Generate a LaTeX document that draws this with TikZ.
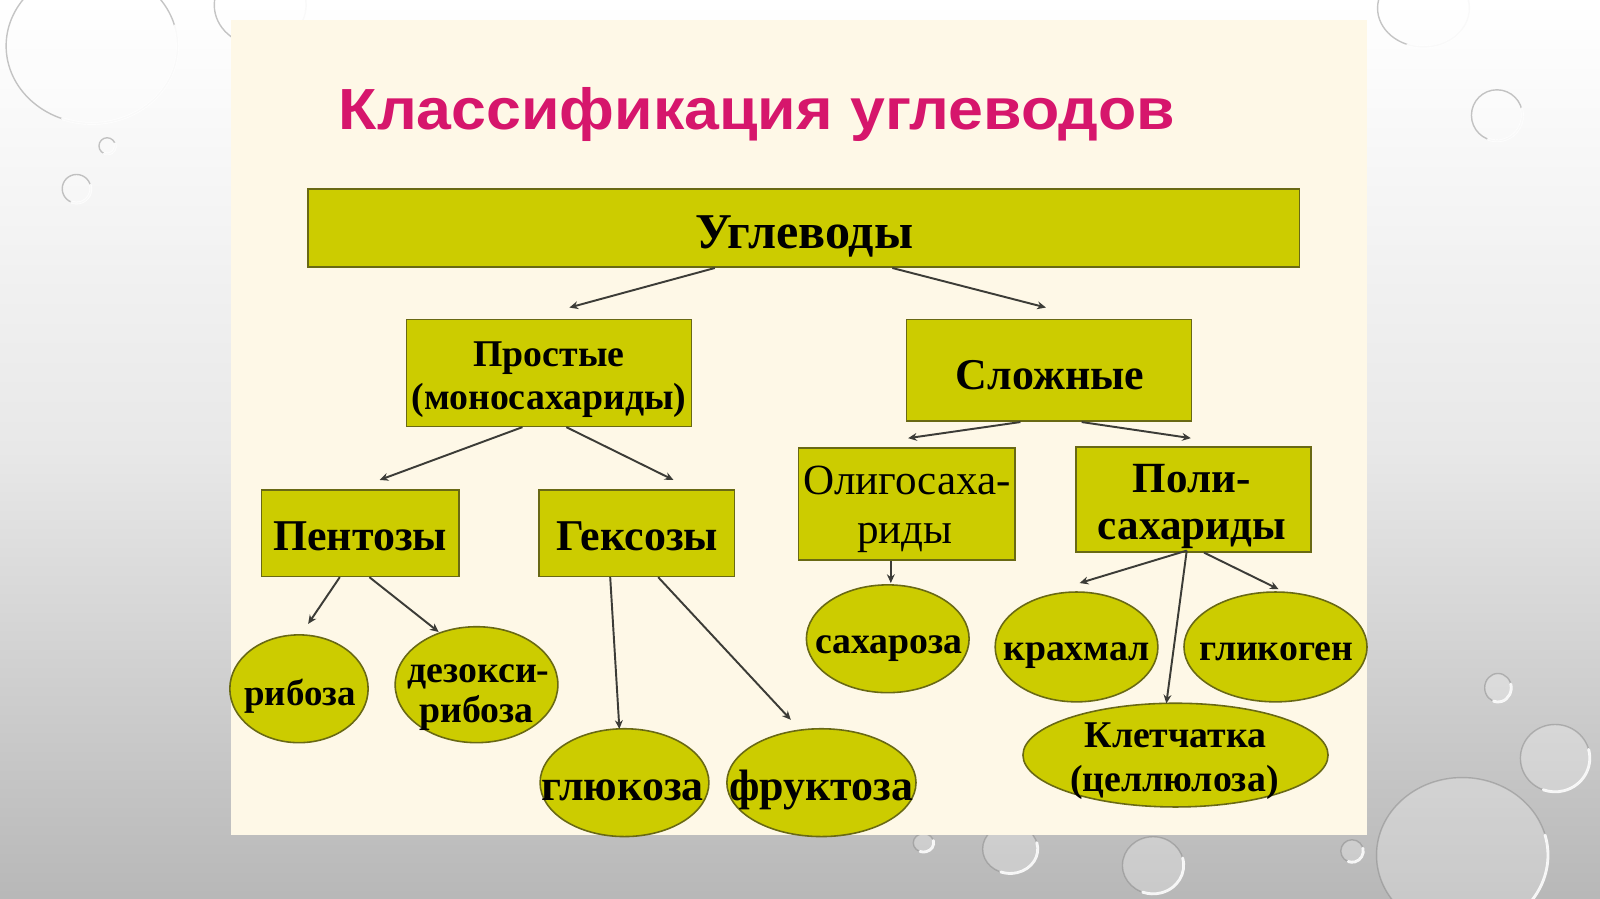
\documentclass[tikz,border=0pt]{standalone}
\usepackage{fontspec}
\setmainfont{Liberation Serif}
\newfontfamily\titlefont{Liberation Sans}[FakeStretch=1.08]
\usetikzlibrary{shapes.geometric,calc,arrows.meta}
\definecolor{cream}{RGB}{254,248,231}
\definecolor{boxfill}{RGB}{204,204,0}
\definecolor{boxline}{RGB}{105,105,20}
\definecolor{titlecol}{RGB}{214,22,108}
\definecolor{arrcol}{RGB}{60,60,55}
\def\uu{0.5785pt}
\newcommand\fsz[2]{\fontsize{#1pt}{#2pt}\selectfont}
\begin{document}
\begin{tikzpicture}[x=0.0204082cm, y=-0.0204082cm,
  box/.style={draw=boxline, line width=0.9pt, fill=boxfill, inner sep=0pt},
  oval/.style={ellipse, draw=boxline, line width=0.9pt, fill=boxfill, inner sep=0pt},
  lbl/.style={inner sep=0pt, anchor=base, text=black, font=\bfseries},
  arr/.style={draw=arrcol, line width=1.1pt, -{Stealth[length=5pt,width=4.5pt]}},
  dropfill/.style={fill=white, fill opacity=0.25},
  droprim/.style={draw=black!50, draw opacity=0.45, line width=0.8pt},
  dropshine/.style={draw=white, draw opacity=0.9, line width=1.6pt, line cap=round}
]
\useasboundingbox (0,0) rectangle (1568,881);
% background
\shade[top color=white, bottom color=black!28, middle color=black!9] (0,0) rectangle (1568,881);
% droplets
\foreach \cx/\cy/\rx/\ry in {90/45/84/76, 105/143/8/8, 75/185/14/14, 255/5/45/40, 1395/8/45/38, 1467/113/25/25, 1468/674/13/14, 1524/743/34/33, 1433/838/84/76, 1130/848/30/28, 990/832/27/24, 905/826/10/9, 1325/834/11/11}
{
  \path[dropfill] (\cx,\cy) ellipse[x radius=\rx, y radius=\ry];
  \path[droprim] (\cx,\cy) ellipse[x radius=\rx, y radius=\ry];
  \path[dropshine] ($(\cx,\cy)+(-15:{\rx} and {\ry})$) arc[start angle=-15, end angle=110, x radius=\rx, y radius=\ry];
}
% slide
\fill[cream] (226,20) rectangle (1340,818);
% title
\node[inner sep=0pt, anchor=base, text=titlecol, font=\titlefont\bfseries\fsz{33}{40}] (title) at (742,127) {Классификация углеводов};

% boxes
\node[box, minimum width=975*\uu, minimum height=77*\uu] (ugl) at (787.5,223.5) {};
\node[box, minimum width=280*\uu, minimum height=105*\uu] (pros) at (538,365.5) {};
\node[box, minimum width=280*\uu, minimum height=100*\uu] (slo) at (1028,363) {};
\node[box, minimum width=194*\uu, minimum height=85*\uu] (pen) at (353,522.5) {};
\node[box, minimum width=192*\uu, minimum height=85*\uu] (gex) at (624,522.5) {};
\node[box, minimum width=213*\uu, minimum height=110*\uu] (oli) at (888.5,494) {};
\node[box, minimum width=231*\uu, minimum height=103*\uu] (pol) at (1169.5,489.5) {};
% ovals
\node[oval, minimum width=136*\uu, minimum height=106*\uu] (rib) at (293,675) {};
\node[oval, minimum width=160*\uu, minimum height=114*\uu] (dez) at (467,671) {};
\node[oval, minimum width=166*\uu, minimum height=106*\uu] (glu) at (612,767) {};
\node[oval, minimum width=186*\uu, minimum height=106*\uu] (fru) at (805,767) {};
\node[oval, minimum width=160*\uu, minimum height=106*\uu] (sax) at (870,626) {};
\node[oval, minimum width=160*\uu, minimum height=108*\uu] (kra) at (1055,634) {};
\node[oval, minimum width=180*\uu, minimum height=108*\uu] (gli) at (1250,634) {};
\node[oval, minimum width=300*\uu, minimum height=102*\uu] (kle) at (1152,740) {};

% labels
\node[lbl, font=\bfseries\fsz{28.5}{31}] (t-ugl) at (788,244) {Углеводы};
\node[lbl, font=\bfseries\fsz{21.5}{24}] (t-pros1) at (538,359) {Простые};
\node[lbl, font=\bfseries\fsz{21.5}{24}] (t-pros2) at (538,401) {(моносахариды)};
\node[lbl, font=\bfseries\fsz{25}{28}] (t-slo) at (1029,382) {Сложные};
\node[lbl, font=\bfseries\fsz{25}{28}] (t-pen) at (353,539) {Пентозы};
\node[lbl, font=\bfseries\fsz{25}{28}] (t-gex) at (624.5,539) {Гексозы};
\node[lbl, font=\mdseries\fsz{24.5}{27}] (t-oli1) at (889,485) {Олигосаха-};
\node[lbl, font=\mdseries\fsz{24.5}{27}] (t-oli2) at (887,533) {риды};
\node[lbl, font=\bfseries\fsz{24.5}{27}] (t-pol1) at (1168,483) {Поли-};
\node[lbl, font=\bfseries\fsz{24.5}{27}] (t-pol2) at (1168,529) {сахариды};
\node[lbl, font=\bfseries\fsz{21}{24}] (t-rib) at (294,691) {рибоза};
\node[lbl, font=\bfseries\fsz{21.5}{24}] (t-dez1) at (469,669) {дезокси-};
\node[lbl, font=\bfseries\fsz{21.5}{24}] (t-dez2) at (467,708) {рибоза};
\node[lbl, font=\bfseries\fsz{25}{28}] (t-glu) at (610,784) {глюкоза};
\node[lbl, font=\bfseries\fsz{25}{28}] (t-fru) at (805,784) {фруктоза};
\node[lbl, font=\bfseries\fsz{21.5}{24}] (t-sax) at (871,640) {сахароза};
\node[lbl, font=\bfseries\fsz{21.5}{24}] (t-kra) at (1055,647) {крахмал};
\node[lbl, font=\bfseries\fsz{21.5}{24}] (t-gli) at (1251,647) {гликоген};
\node[lbl, font=\bfseries\fsz{21.5}{24}] (t-kle1) at (1152,733) {Клетчатка};
\node[lbl, font=\bfseries\fsz{21.5}{24}] (t-kle2) at (1151,776) {(целлюлоза)};

% connectors
\draw[arr] ($(ugl.south)+(-87,0)$) -- ($(pros.north)+(20,-11)$);
\draw[arr] ($(ugl.south)+(87,0)$) -- ($(slo.north)+(-3,-11)$);
\draw[arr] ($(pros.south)+(-26,0)$) -- ($(pen.north)+(19,-9)$);
\draw[arr] ($(pros.south)+(17,0)$) -- ($(gex.north)+(36,-9)$);
\draw[arr] ($(slo.south)+(-28,0)$) -- ($(oli.north)+(1.5,-9)$);
\draw[arr] ($(slo.south)+(32,0)$) -- ($(pol.north)+(-2.5,-8)$);
\draw[arr] ($(pen.south)+(-20,0)$) -- ($(rib.north)+(9,-10)$);
\draw[arr] ($(pen.south)+(9,0)$) -- ($(dez.north)+(-37,6)$);
\draw[arr] ($(gex.south)+(-26,0)$) -- ($(glu.north)+(-5,1)$);
\draw[arr] ($(gex.south)+(21,0)$) -- ($(fru.north)+(-30,-8)$);
\draw[arr] ($(oli.south)+(-15.5,0)$) -- ($(sax.north)+(3,-1)$);
\draw[arr] ($(pol.south)+(-6.5,-2)$) -- ($(kra.north)+(3,-8)$);
\draw[arr] ($(pol.south)+(-6.5,-2)$) -- ($(kle.north)+(-9,1)$);
\draw[arr] ($(pol.south)+(10.5,0)$) -- ($(gli.north)+(3,-2)$);
\end{tikzpicture}
\end{document}
